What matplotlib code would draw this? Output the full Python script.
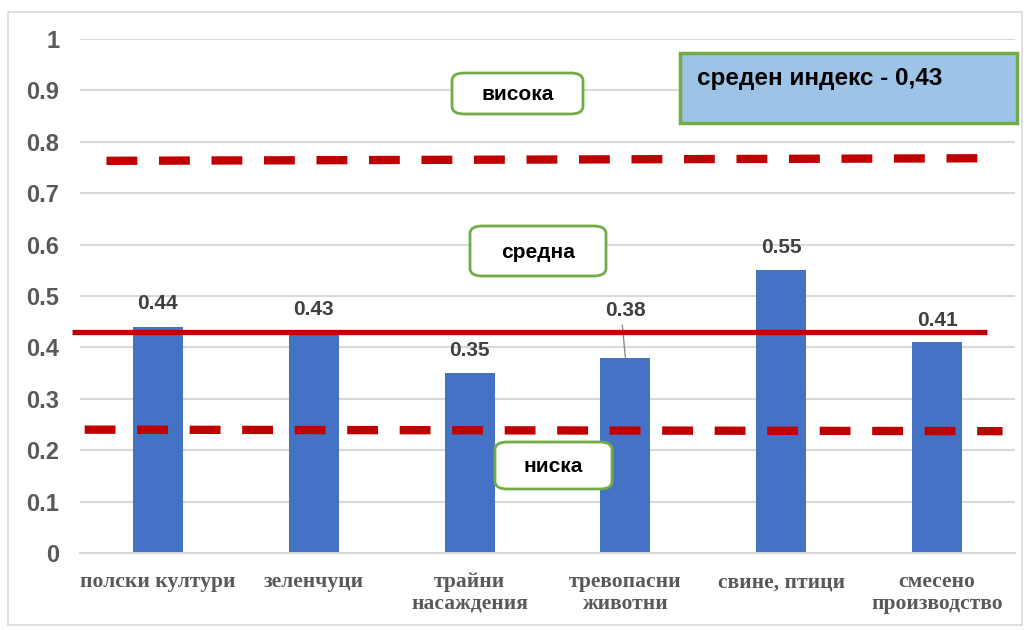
import matplotlib.pyplot as plt
from matplotlib.patches import FancyBboxPatch, Rectangle

categories = ['полски култури', 'зеленчуци', 'трайни\nнасаждения',
              'тревопасни\nживотни', 'свине, птици', 'смесено\nпроизводство']
values = [0.44, 0.43, 0.35, 0.38, 0.55, 0.41]
labels = ['0.44', '0.43', '0.35', '0.38', '0.55', '0.41']
label_y = [0.485, 0.473, 0.393, 0.471, 0.594, 0.453]
mean_index = 0.43
high_line = [0.763, 0.768]
low_line = [0.240, 0.237]
yticks = [0, 0.1, 0.2, 0.3, 0.4, 0.5, 0.6, 0.7, 0.8, 0.9, 1]
ytick_labels = ['0', '0.1', '0.2', '0.3', '0.4', '0.5', '0.6', '0.7', '0.8', '0.9', '1']

gray = '#595959'
red = '#c00000'

fig = plt.figure(figsize=(10.3, 6.3), dpi=100)
ax = fig.add_axes([80 / 1030, 1 - 553 / 630, 935 / 1030, 514 / 630])

x = range(len(values))
ax.bar(x, values, width=0.32, color='#4472c4', zorder=2)
ax.set_xlim(-0.5, 5.5)
ax.set_ylim(0, 1)
ax.set_yticks(yticks)
ax.set_yticklabels(ytick_labels, fontsize=17, fontweight='bold', color=gray,
                   family='Liberation Sans')
ax.set_xticks(list(x))
ax.set_xticklabels(categories, fontsize=15.5, fontweight='bold', color=gray,
                   family='Liberation Serif', linespacing=1.1)
ax.tick_params(length=0, axis='y', pad=15)
ax.tick_params(length=0, axis='x', pad=14)
ax.grid(axis='y', color='#d9d9d9', linewidth=1.5, zorder=0)
for s in ['top', 'right', 'left']:
    ax.spines[s].set_visible(False)
ax.spines['bottom'].set_color('#d9d9d9')
ax.spines['bottom'].set_linewidth(1.5)

# data labels
for i, (v, t, ly) in enumerate(zip(values, labels, label_y)):
    ax.text(i, ly, t, ha='center', va='center', fontsize=15, fontweight='bold',
            color='#404040', family='Liberation Sans', zorder=5)
ax.plot([2.98, 3.0], [0.443, 0.38], color='#8c8c8c', linewidth=1, zorder=3)

# reference lines
ax.plot([-0.55, 5.32], [mean_index, mean_index], color=red, linewidth=3.8,
        zorder=4, clip_on=False, solid_capstyle='butt')
ax.plot([-0.33, 5.31], high_line, color=red, linewidth=6, zorder=4,
        linestyle=(0, (3.7, 2.6)), clip_on=False)
ax.plot([-0.47, 5.42], low_line, color=red, linewidth=6, zorder=4,
        linestyle=(0, (3.7, 2.6)), clip_on=False)


def px_box(x0, y0, x1, y1, text, face, edge, rounded, tx=None, ty=None, ha='center', size=15):
    w = (x1 - x0) / 1030
    h = (y1 - y0) / 630
    fx = x0 / 1030
    fy = 1 - y1 / 630
    if rounded:
        p = FancyBboxPatch((fx, fy), w, h, boxstyle='round,pad=0,rounding_size=0.012',
                           transform=fig.transFigure, facecolor=face, edgecolor=edge,
                           linewidth=2, zorder=6)
    else:
        p = Rectangle((fx, fy), w, h, transform=fig.transFigure, facecolor=face,
                      edgecolor=edge, linewidth=2.5, zorder=6)
    fig.patches.append(p)
    if tx is None:
        tx = (x0 + x1) / 2
    if ty is None:
        ty = (y0 + y1) / 2
    fig.text(tx / 1030, 1 - ty / 630, text, ha=ha, va='center', fontsize=size,
             fontweight='bold', color='black', family='Liberation Sans', zorder=7)


px_box(452, 73, 583, 114, 'висока', 'white', '#70ad47', True, ty=95)
px_box(470, 226, 606, 276, 'средна', 'white', '#70ad47', True, ty=252)
px_box(495, 442, 612, 489, 'ниска', 'white', '#70ad47', True, ty=467)
px_box(680, 53, 1017, 123, 'среден индекс - 0,43', '#9dc3e6', '#70ad47', False,
       tx=697, ty=79, ha='left', size=17.5)

# outer border
fig.patches.append(Rectangle((8 / 1030, 5 / 630), 1014 / 1030, 613 / 630,
                             transform=fig.transFigure, facecolor='none',
                             edgecolor='#d9d9d9', linewidth=1.2))

fig.savefig('out.png', dpi=100)
